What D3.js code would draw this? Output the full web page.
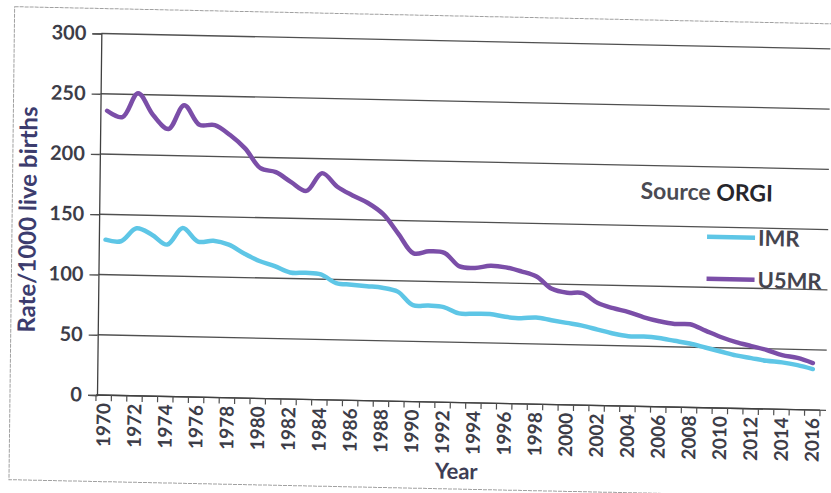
<!DOCTYPE html>
<html><head><meta charset="utf-8">
<script src="https://cdn.jsdelivr.net/npm/d3@7"></script>
<style>
html,body{margin:0;padding:0;background:#fff;overflow:hidden}
svg{display:block}
text{font-family:Lato,"Open Sans",sans-serif;font-weight:700}
</style>
</head><body>
<svg id="c" width="831" height="493"></svg>
<script>
const years = [1970,1971,1972,1973,1974,1975,1976,1977,1978,1979,1980,1981,1982,1983,1984,1985,1986,1987,1988,1989,1990,1991,1992,1993,1994,1995,1996,1997,1998,1999,2000,2001,2002,2003,2004,2005,2006,2007,2008,2009,2010,2011,2012,2013,2014,2015,2016];
const imr  = [129,128,139,134,126,140,129,130,127,120,114,110,105,105,104,97,96,95,94,91,80,80,79,74,74,74,72,71,72,70,68,66,63,60,58,58,57,55,53,50,47,44,42,40,39,37,34];
const u5mr = [236,231,251,233,222,242,226,226,218,207,191,188,180,173,188,177,170,164,155,139,123,125,124,113,112,114,113,110,106,96,93,93,85,81,78,74,71,69,69,64,59,55,52,49,45,43,39];
const yTicks = [0,50,100,150,200,250,300];
const xLabels = [1970,1972,1974,1976,1978,1980,1982,1984,1986,1988,1990,1992,1994,1996,1998,2000,2002,2004,2006,2008,2010,2012,2014,2016];
const seriesNames = ["IMR","U5MR"];
const seriesColors = ["#5ec6e6","#7b4ea8"];
const yTitle = "Rate/1000 live births";
const xTitle = "Year";
const sourceWord = "Source ";
const sourceName = "ORGI";

const svg = d3.select("#c");
svg.append("rect").attr("width",831).attr("height",493).attr("fill","#fff");

// whole chart slightly skewed as in the scanned reference
const g = svg.append("g")
  .attr("transform","translate(97,395) matrix(1,0.021,-0.012,1,0,0) translate(-97,-395)");

// border of the scanned chart area
g.append("rect").attr("x",10).attr("y",8.5).attr("width",880).attr("height",473)
  .attr("fill","none").attr("stroke","#a0a0a0").attr("stroke-width",1).attr("stroke-dasharray","4,1");

const x = d3.scaleBand().domain(years).range([96,820]);
const y = d3.scaleLinear().domain([0,300]).range([395,33.5]);
const cx = d => x(d) + x.bandwidth()/2;

// horizontal gridlines
g.append("g").selectAll("line").data(yTicks).join("line")
  .attr("x1",97).attr("x2",826)
  .attr("y1",d=>y(d)).attr("y2",d=>y(d))
  .attr("stroke","#505050").attr("stroke-width",1.3);

// y axis
const yAxis = g.append("g").attr("transform","translate(97,0)")
  .call(d3.axisLeft(y).tickValues(yTicks).tickSize(9).tickPadding(6));
yAxis.select(".domain").attr("stroke","#404040").attr("stroke-width",1.3);
yAxis.selectAll(".tick line").attr("stroke","#505050").attr("stroke-width",1.3);
yAxis.selectAll("text").attr("font-size",20).attr("fill","#3d3d48")
  .attr("font-family","Lato, sans-serif").attr("font-weight",700);

// x axis
const xAxis = g.append("g").attr("transform",`translate(0,${y(0)})`);
xAxis.append("line").attr("x1",x.range()[0]).attr("x2",x.range()[1])
  .attr("stroke","#404040").attr("stroke-width",1.3);
xAxis.selectAll("line.tk").data(years.concat([null])).join("line").attr("class","tk")
  .attr("x1",(d,i)=> d===null ? x.range()[1] : x(d))
  .attr("x2",(d,i)=> d===null ? x.range()[1] : x(d))
  .attr("y1",0).attr("y2",6).attr("stroke","#505050").attr("stroke-width",1.2);
xAxis.selectAll("text.lb").data(xLabels).join("text").attr("class","lb")
  .attr("transform",d=>`translate(${cx(d)},8) rotate(-90)`)
  .attr("text-anchor","end").attr("dy","0.36em")
  .attr("font-size",19).attr("fill","#3d3d48")
  .text(d=>d);

// series lines
const line = d3.line().x(d=>cx(d.year)).y(d=>y(d.v)).curve(d3.curveCatmullRom.alpha(0.5));
const series = [imr,u5mr].map((vals,k)=>({name:seriesNames[k],color:seriesColors[k],pts:years.map((yr,i)=>({year:yr,v:vals[i]}))}));
g.append("g").selectAll("path").data(series).join("path")
  .attr("d",d=>line(d.pts)).attr("fill","none")
  .attr("stroke",d=>d.color).attr("stroke-width",4.5)
  .attr("stroke-linejoin","round").attr("stroke-linecap","round");

// legend
const leg = g.append("g");
const legY = [224,266];
series.forEach((s,i)=>{
  leg.append("line").attr("x1",705).attr("x2",753).attr("y1",legY[i]).attr("y2",legY[i])
    .attr("stroke",s.color).attr("stroke-width",4.5);
  leg.append("text").attr("x",756).attr("y",legY[i]+8).attr("font-size",22)
    .attr("fill","#45454f").text(s.name);
});
const src = leg.append("text").attr("x",638).attr("y",187.5).attr("font-size",23);
src.append("tspan").attr("fill","#4a4a52").text(sourceWord);
src.append("tspan").attr("fill","#26262c").text(sourceName);

// axis titles
g.append("text").attr("transform","translate(34,221) rotate(-90)")
  .attr("text-anchor","middle").attr("font-size",24).attr("fill","#3c3c6e").text(yTitle);
g.append("text").attr("x",457).attr("y",471.5).attr("text-anchor","middle")
  .attr("font-size",22).attr("fill","#3d3d55").text(xTitle);
</script>
</body></html>
